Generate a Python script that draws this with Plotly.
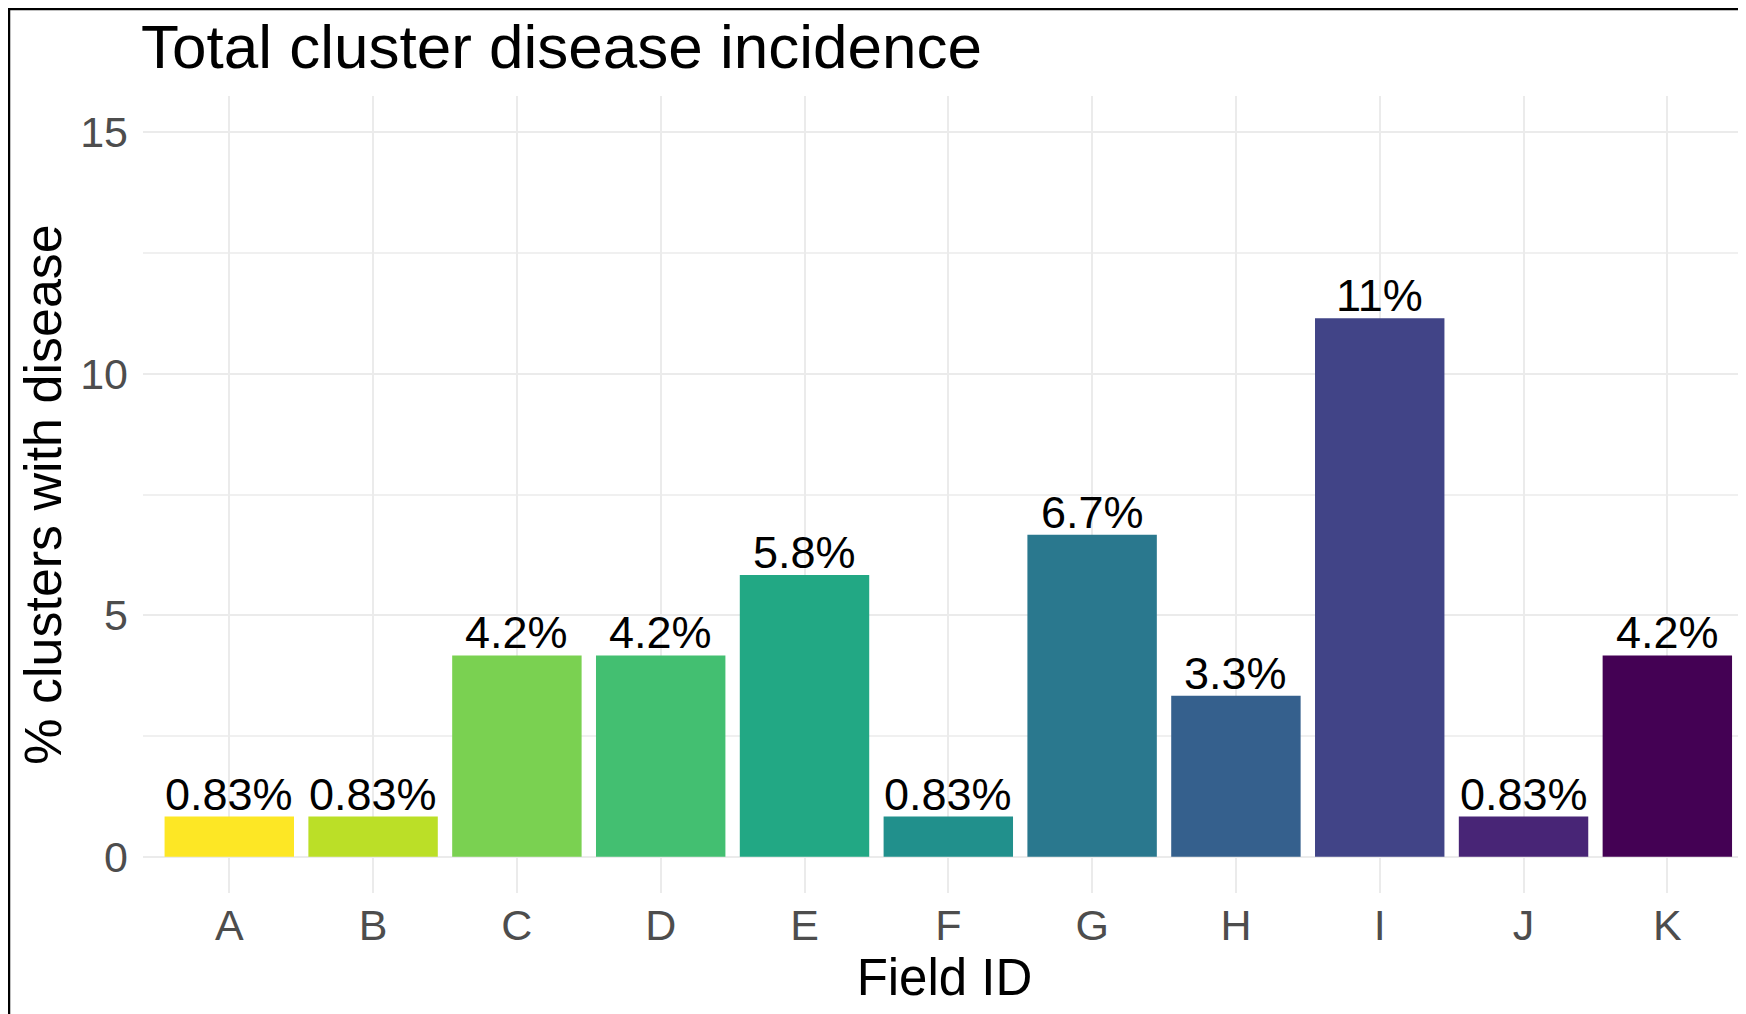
import plotly.graph_objects as go

fields = ["A", "B", "C", "D", "E", "F", "G", "H", "I", "J", "K"]
pct_with_disease = [0.833, 0.833, 4.167, 4.167, 5.833, 0.833, 6.667, 3.333, 11.15, 0.833, 4.167]
bar_labels = ["0.83%", "0.83%", "4.2%", "4.2%", "5.8%", "0.83%", "6.7%", "3.3%", "11%", "0.83%", "4.2%"]
bar_colors = ["#FDE725", "#BBDF27", "#7AD151", "#43BF71", "#22A884", "#21908C",
              "#2A788E", "#35608D", "#414487", "#482576", "#440154"]
y_ticks = [0, 5, 10, 15]

# The page places the figure 8px in from the top-left (default body margin),
# so the layout below is expressed in figure pixels = page pixels - 8.
OFF = 8
W, H = 1746 - OFF, 1014 - OFF
ML = 143 - OFF
MR = 0
MT = 96 - OFF
MB = 1014 - 893
PW, PH = W - ML - MR, H - MT - MB
FONT = "Liberation Sans, Arial, sans-serif"


def px_x(px):
    return (px - ML) / PW


def px_y(py):
    return (H - MB - py) / PH


fig = go.Figure()
fig.add_trace(go.Bar(
    x=fields, y=pct_with_disease, width=0.9,
    marker=dict(color=bar_colors, line=dict(width=0)),
    hoverinfo="skip",
))

for f, v, lab in zip(fields, pct_with_disease, bar_labels):
    fig.add_annotation(x=f, y=v, text=lab, showarrow=False, xanchor="center", yanchor="bottom",
                       yshift=-5, font=dict(family=FONT, size=45, color="black"))

fig.update_layout(
    width=W, height=H,
    margin=dict(l=ML, r=MR, t=MT, b=MB, pad=0),
    paper_bgcolor="white", plot_bgcolor="white",
    showlegend=False,
    font=dict(family=FONT),
    title=dict(text="Total cluster disease incidence", x=(141 - OFF) / W, xanchor="left", xref="container",
               y=1 - (46 - OFF) / H, yanchor="middle", yref="container",
               font=dict(family=FONT, size=62, color="black")),
    xaxis=dict(range=[-0.6, 10.547], showgrid=True, gridcolor="#EBEBEB", gridwidth=2,
               zeroline=False, showline=False, ticks="", ticklabelstandoff=3,
               tickfont=dict(family=FONT, size=43, color="#4D4D4D"),
               title=dict(text="Field ID", font=dict(family=FONT, size=51, color="black"), standoff=10)),
    yaxis=dict(range=[-0.75, 15.75], tickvals=y_ticks, showgrid=True, gridcolor="#EBEBEB", gridwidth=2,
               minor=dict(dtick=2.5, tick0=0, showgrid=True, gridcolor="#F0F0F0", gridwidth=1.5),
               zeroline=False, showline=False, ticks="", ticklabelstandoff=14,
               tickfont=dict(family=FONT, size=43, color="#4D4D4D"),
               title=dict(text="% clusters with disease", font=dict(family=FONT, size=52, color="black"),
                          standoff=1)),
    bargap=0.1,
)

# screenshot frame (top and left black borders)
fig.add_shape(type="line", xref="paper", yref="paper", x0=px_x(1), x1=px_x(1), y0=px_y(0), y1=px_y(H + 10),
              line=dict(color="black", width=2.5))
fig.add_shape(type="line", xref="paper", yref="paper", x0=px_x(0), x1=px_x(W + 10), y0=px_y(1), y1=px_y(1),
              line=dict(color="black", width=2.5))

fig.write_html("out.html")
